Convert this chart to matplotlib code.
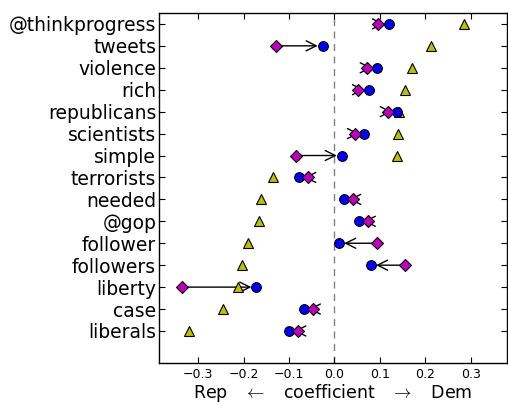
import matplotlib
matplotlib.use('Agg')
import matplotlib.pyplot as plt
import numpy as np

# Words, top to bottom
words = ['@thinkprogress', 'tweets', 'violence', 'rich', 'republicans',
         'scientists', 'simple', 'terrorists', 'needed', '@gop',
         'follower', 'followers', 'liberty', 'case', 'liberals']

# Coefficients for each word
coef_tri = [0.285, 0.213, 0.172, 0.156, 0.143, 0.140, 0.137, -0.134,
            -0.161, -0.165, -0.190, -0.204, -0.212, -0.245, -0.320]
coef_circle = [0.120, -0.026, 0.093, 0.076, 0.137, 0.065, 0.016, -0.077,
               0.022, 0.054, 0.011, 0.081, -0.172, -0.067, -0.099]
coef_diamond = [0.096, -0.128, 0.072, 0.051, 0.117, 0.046, -0.084, -0.058,
                0.040, 0.075, 0.093, 0.156, -0.336, -0.047, -0.080]

xticks = [-0.3, -0.2, -0.1, 0.0, 0.1, 0.2, 0.3]

n = len(words)
y = np.arange(n)[::-1]

fig = plt.figure(figsize=(5.08, 4.04), dpi=100)
ax = fig.add_axes([0.313, 0.102, 0.685, 0.866])

ax.axvline(0, color='gray', linestyle='--', linewidth=1, dashes=(5, 4), zorder=1)

# arrows go from the diamond value to the circle value
for i in range(n):
    ax.annotate('', xy=(coef_circle[i], y[i]), xytext=(coef_diamond[i], y[i]),
                arrowprops=dict(arrowstyle='->', color='k', lw=1,
                                shrinkA=0, shrinkB=3.5, mutation_scale=18),
                zorder=2)

ax.plot(coef_tri, y, '^', color=(0.75, 0.75, 0), markeredgecolor='k',
        markersize=7, markeredgewidth=0.8, zorder=3)
ax.plot(coef_circle, y, 'o', color='b', markeredgecolor='k',
        markersize=7, markeredgewidth=0.8, zorder=4)
ax.plot(coef_diamond, y, 'D', color=(0.75, 0, 0.75), markeredgecolor='k',
        markersize=6.5, markeredgewidth=0.8, zorder=5)

ax.set_xlim(-0.386, 0.380)
ax.set_ylim(-1.45, n - 0.5)
ax.set_yticks(y)
ax.set_yticklabels(words, fontsize=13.5)
ax.set_xticks(xticks)
ax.set_xticklabels(['\u22120.3', '\u22120.2', '\u22120.1', '0.0', '0.1', '0.2', '0.3'],
                   fontsize=9)
ax.tick_params(direction='in', length=4, top=True, right=True, width=0.8)
ax.tick_params(axis='y', pad=2)
ax.tick_params(axis='x', pad=4)
ax.set_xlabel(r'Rep   $\leftarrow$   coefficient   $\rightarrow$   Dem',
              fontsize=12.5, math_fontfamily='cm')
ax.xaxis.set_label_coords(0.5, -0.056)
for s in ax.spines.values():
    s.set_linewidth(1)

plt.savefig('out.png', dpi=100)
